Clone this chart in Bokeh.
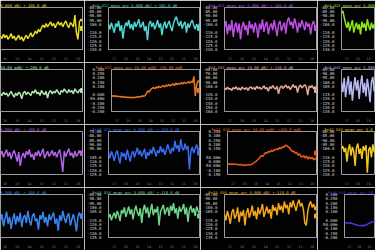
from bokeh.plotting import figure
from bokeh.layouts import column, row
from bokeh.models import Range1d, FixedTicker, Label
from bokeh.embed import file_html
from bokeh.resources import INLINE

MONO = "DejaVu Sans Mono"

# ---------------- y tick sets ----------------
yt_a = [-80, -85, -90, -95, -100, -105, -110, -115, -120, -125, -130]
yl_a = ["-80.00", "-85.00", "-90.00", "-95.00", "-100.0", "-105.0", "-110.0", "-115.0", "-120.0", "-125.0", "-130.0"]
yt_b = [-85, -90, -95, -100, -105, -110, -115, -120, -125, -130, -135]
yl_b = ["-85.00", "-90.00", "-95.00", "-100.0", "-105.0", "-110.0", "-115.0", "-120.0", "-125.0", "-130.0", "-135.0"]
yt_c = [-75, -80, -85, -90, -95, -100, -105, -110, -115, -120, -125]
yl_c = ["-75.00", "-80.00", "-85.00", "-90.00", "-95.00", "-100.0", "-105.0", "-110.0", "-115.0", "-120.0", "-125.0"]
yt_d = [-60, -70, -80, -90, -100, -110, -120, -130, -140, -150, -160]
yl_d = ["-60.00", "-70.00", "-80.00", "-90.00", "-100.0", "-110.0", "-120.0", "-130.0", "-140.0", "-150.0", "-160.0"]
yt_e = [-90, -95, -100, -105, -110, -115, -120, -125, -130, -135, -140]
yl_e = ["-90.00", "-95.00", "-100.0", "-105.0", "-110.0", "-115.0", "-120.0", "-125.0", "-130.0", "-135.0", "-140.0"]
yt_m1 = [0.3, 0.25, 0.2, 0.15, 0.1, 0.05, 0.0, -0.05, -0.1, -0.15, -0.2]
yl_m1 = ["0.300", "0.250", "0.200", "0.150", "0.100", "50.00m", "0.000", "-50.00m", "-0.100", "-0.150", "-0.200"]
yt_m2 = [0.35, 0.3, 0.25, 0.2, 0.15, 0.1, 0.05, 0.0, -0.05, -0.1, -0.15]
yl_m2 = ["0.350", "0.300", "0.250", "0.200", "0.150", "0.100", "50.00m", "0.000", "-50.00m", "-0.100", "-0.150"]

x_ticks = [4, 12, 20, 28, 36, 44, 52, 60]
x_labels = ["17", "16", "15", "14", "13", "12", "11", "10"]

# ---------------- traces ----------------
yellow = [-114, -117, -112, -116, -113, -118, -115, -111, -117, -114,
          -119, -116, -113, -118, -115, -120, -116, -113, -117, -114,
          -110, -115, -112, -108, -111, -106, -109, -104, -101, -104,
          -99, -103, -100, -97, -102, -99, -104, -100, -97, -101,
          -98, -103, -99, -96, -101, -104, -98, -100, -103, -89,
          -110, -118, -97, -94, -96]
cyan = [-100, -106, -98, -104, -110, -99, -103, -96, -108, -101,
        -117, -104, -98, -102, -95, -105, -100, -107, -97, -103,
        -99, -94, -104, -101, -97, -108, -102, -119, -100, -96,
        -103, -98, -106, -101, -95, -104, -99, -113, -102, -97,
        -105, -100, -96, -103, -108, -99, -94, -91, -98, -102,
        -96, -105, -100, -97, -110, -99, -104, -98, -95, -101,
        -106, -100, -103, -99]
magenta = [-104, -96, -112, -100, -108, -95, -115, -102, -98, -110,
           -99, -118, -103, -97, -107, -101, -113, -96, -105, -100,
           -110, -98, -104, -116, -99, -106, -94, -109, -101, -97,
           -112, -103, -99, -107, -95, -104, -114, -100, -96, -108,
           -102, -98, -111, -96, -92, -101, -97, -105, -93, -100,
           -110, -98, -104, -95, -101, -107, -97, -103, -99, -112,
           -100, -96, -104, -101]
lime = [-86, -84, -92, -99, -104, -97, -108, -101, -95, -110,
        -103, -98, -106, -100, -112, -97, -104, -99, -108, -94,
        -102, -107, -98, -105, -100, -103]

palegreen = [-119, -121, -117, -120, -118, -122, -119, -116, -120, -123,
             -118, -121, -117, -119, -125, -118, -116, -120, -117, -119,
             -121, -116, -118, -114, -119, -117, -121, -115, -118, -120,
             -116, -124, -117, -115, -119, -116, -118, -114, -117, -120,
             -115, -117, -113, -116, -118, -114, -117, -115, -119, -113,
             -116, -118, -114, -116, -115]
orange = [-0.010, -0.018, -0.012, -0.022, -0.015, -0.025, -0.020, -0.028, -0.022, -0.030,
          -0.026, -0.034, -0.028, -0.036, -0.031, -0.038,
          -0.030, -0.036, -0.025, -0.032, -0.020, -0.027, -0.012, -0.020, -0.010,
          0.015, 0.045, 0.030, 0.060, 0.075, 0.086,
          0.070, 0.092, 0.080, 0.100, 0.085, 0.096, 0.110,
          0.090, 0.115, 0.100, 0.122, 0.105, 0.116,
          0.130, 0.108, 0.138, 0.120, 0.135,
          0.125, 0.145, 0.128, 0.150, 0.132, 0.140, 0.155,
          0.138, 0.160, 0.145, 0.218, -0.016, 0.120, 0.167, 0.147]
pink = [-104, -108, -102, -107, -105, -110, -103, -106, -101, -108,
        -104, -109, -102, -105, -107, -103, -110, -104, -101, -106,
        -103, -108, -100, -105, -102, -107, -104, -99, -106, -103,
        -112, -101, -105, -98, -104, -107, -100, -118, -103, -99,
        -105, -101, -97, -104, -100, -108, -102, -96, -103, -99,
        -115, -101, -97, -104, -100, -96, -102, -121, -99, -103,
        -98, -106, -101, -104]
lavender = [-100, -112, -95, -118, -104, -93, -115, -99, -122, -106,
            -94, -110, -98, -120, -103, -92, -113, -101, -117, -96,
            -108, -124, -100, -94, -111, -105]

purple = [-102, -98, -105, -100, -96, -104, -99, -107, -101, -97,
          -103, -110, -99, -115, -104, -100, -106, -98, -102, -96,
          -105, -101, -108, -99, -103, -97, -104, -100, -95, -106,
          -102, -98, -104, -101, -97, -103, -99, -105, -100, -96,
          -107, -122, -98, -104, -99, -95, -103, -100, -106, -98,
          -104, -101, -97, -103, -100]
blue3 = [-100, -106, -98, -103, -109, -101, -97, -105, -112, -99,
         -104, -100, -108, -96, -103, -110, -101, -98, -105, -99,
         -94, -102, -97, -104, -100, -95, -107, -99, -103, -96,
         -101, -93, -98, -104, -97, -100, -92, -99, -95, -102,
         -97, -90, -96, -101, -94, -98, -86, -95, -91, -99,
         -84, -94, -97, -89, -96, -92, -119, -98, -93, -100,
         -95, -90, -97, -94]
redorange = [-0.030, -0.025, -0.035, -0.028, -0.032, -0.026, -0.034, -0.030, -0.038, -0.033,
             -0.040, -0.036, -0.045, -0.038, -0.042, -0.035, -0.040, -0.030, -0.025, -0.010, 0.000,
             0.015, 0.030, 0.050, 0.070, 0.060, 0.085, 0.105,
             0.095, 0.120, 0.110, 0.130, 0.115, 0.140, 0.136,
             0.150, 0.140, 0.165, 0.150, 0.175, 0.166,
             0.190, 0.187, 0.170, 0.160, 0.135, 0.115,
             0.120, 0.095, 0.105, 0.075, 0.090, 0.060, 0.054,
             0.070, 0.040, 0.065, 0.030, 0.055, 0.034,
             0.050, 0.020, 0.040, 0.013]
gold = [-100, -97, -104, -99, -115, -101, -95, -108, -98, -103,
        -120, -99, -94, -106, -100, -112, -97, -102, -96, -128,
        -101, -98, -110, -95, -104, -100]

blue4 = [-106, -98, -112, -103, -95, -109, -101, -115, -104, -97,
         -110, -100, -107, -96, -113, -102, -99, -108, -94, -105,
         -111, -100, -97, -106, -103, -116, -99, -104, -95, -108,
         -101, -112, -98, -105, -100, -96, -109, -103, -117, -99,
         -106, -94, -102, -108, -100, -97, -111, -104, -98, -106,
         -118, -101, -96, -103, -99]
green4 = [-112, -108, -115, -110, -106, -113, -104, -109, -116, -103,
          -107, -100, -111, -105, -99, -108, -102, -114, -104, -98,
          -106, -110, -101, -118, -103, -97, -107, -100, -112, -104,
          -96, -109, -102, -106, -99, -121, -105, -101, -97, -108,
          -103, -100, -110, -98, -104, -95, -107, -101, -113, -99,
          -105, -102, -96, -108, -100, -117, -103, -98, -106, -101,
          -110, -99, -104, -107]
goldorange = [-108, -115, -104, -111, -119, -106, -102, -113, -109, -100,
              -117, -105, -110, -103, -121, -107, -101, -112, -106, -98,
              -110, -104, -114, -100, -108, -103, -96, -111, -105, -99,
              -107, -102, -113, -97, -104, -100, -109, -95, -103, -98,
              -106, -93, -101, -97, -108, -94, -100, -92, -98, -104,
              -96, -91, -99, -95, -102, -118, -121, -105, -97, -93,
              -100, -96, -103, -98]
violet = [-0.030, -0.028, -0.032, -0.030, -0.034, -0.031, -0.036, -0.040, -0.045, -0.050,
          -0.055, -0.058, -0.062, -0.060, -0.065, -0.058, -0.062, -0.055, -0.050, -0.042,
          -0.035, -0.028, -0.020, -0.015, -0.010, -0.005]

headers = [
    ["5.000 dB/ +-105.0 dB", "Fp2 G12 mean avr 5.000 dB/ +-105.0 dB",
     "Fp3 G22 mean avr 5.000 dB/ +-105.0 dB", "Fp4 G42 mean avr 5.000"],
    ["10.00 mdB/ +-200.0 dB", "Fp6 G22 mean avr 50.00 mdB/ +50.00 mdB",
     "Fp7 G32 mean avr 10.00 dB/ +-110.0 dB", "Fp8 G42 mean avr 5.000"],
    ["5.000 dB/ +-100.0 dB", "Fp10 G23 mean avr 5.000 dB/ +-100.0 dB",
     "Fp11 G33 mean avr 50.00 mdB/ +100.0 mdB", "Fp12 G43 mean avr 5.0"],
    ["5.000 dB/ +-100.0 dB", "Fp14 G24 mean avr 5.000 dB/ +-110.0 dB",
     "Fp15 G34 mean avr 5.000 dB/ +-110.0 dB", "Fp16 G44 mean avr 50."],
]
series = [
    [yellow, cyan, magenta, lime],
    [palegreen, orange, pink, lavender],
    [purple, blue3, redorange, gold],
    [blue4, green4, goldorange, violet],
]
ticksets = [
    [(yt_a, yl_a), (yt_a, yl_a), (yt_a, yl_a), (yt_a, yl_a)],
    [(yt_e, yl_e), (yt_m1, yl_m1), (yt_d, yl_d), (yt_b, yl_b)],
    [(yt_c, yl_c), (yt_c, yl_c), (yt_m2, yl_m2), (yt_a, yl_a)],
    [(yt_c, yl_c), (yt_b, yl_b), (yt_b, yl_b), (yt_m1, yl_m1)],
]
colors = [
    ["#e6de1e", "#4fd6d6", "#c04ee6", "#8ee81a"],
    ["#b4e6b0", "#e8761a", "#eaa898", "#b8b8f4"],
    ["#b264e6", "#3a6cf4", "#f0581c", "#f4c81c"],
    ["#3a86f0", "#6cd68a", "#f4a81c", "#4838e8"],
]

col_geom = [(84, 0, 2), (116, 18, 1), (117, 18, 1), (58, 18, 0)]
row_geom = [(62, 4, 8), (62, 5, 8), (63, 5, 9), (63, 5, 8)]

rows = []
for r in range(4):
    h, bt, bb = row_geom[r]
    figs = []
    for c in range(4):
        w, bl, br = col_geom[c]
        ys = series[r][c]
        yt, yl = ticksets[r][c]
        col = colors[r][c]
        start = 64 - len(ys) if c == 0 else 0
        xs = list(range(start, start + len(ys)))
        p = figure(width=w, height=h, output_backend="svg", toolbar_location=None,
                   x_range=Range1d(xs[0], xs[-1]), y_range=Range1d(yt[-1], yt[0]),
                   min_border_left=bl, min_border_right=br, min_border_top=bt, min_border_bottom=bb,
                   y_axis_location=("left" if c > 0 else None),
                   background_fill_color="#020202", border_fill_color="black",
                   outline_line_color="#9a9a9a", outline_line_width=1,
                   title=headers[r][c])
        p.title.text_color = col
        p.title.text_font = MONO
        p.title.text_font_size = "3.8px"
        p.title.text_font_style = "normal"
        p.title.standoff = 0
        p.title.align = "left"
        p.title.offset = 0 if c == 0 else (-17 if c == 3 else -16)
        p.xgrid.visible = False
        p.ygrid.visible = False

        xa = p.xaxis[0]
        xa.ticker = FixedTicker(ticks=x_ticks)
        xa.major_label_overrides = {t: l for t, l in zip(x_ticks, x_labels)}
        xa.axis_line_color = None
        xa.major_tick_line_color = None
        xa.minor_tick_line_color = None
        xa.major_label_text_font = MONO
        xa.major_label_text_font_size = "3.5px"
        xa.major_label_text_color = "#7a7a7a"
        xa.major_label_standoff = 1

        ref = yt[5]
        if c > 0:
            ya = p.yaxis[0]
            ya.ticker = FixedTicker(ticks=yt)
            ov = {t: l for t, l in zip(yt, yl)}
            ov[ref] = ""
            ya.major_label_overrides = ov
            ya.axis_line_color = None
            ya.major_tick_line_color = None
            ya.minor_tick_line_color = None
            ya.major_label_text_font = MONO
            ya.major_label_text_font_size = "4px"
            ya.major_label_text_color = "#dcdcdc"
            ya.major_label_standoff = 1
            p.add_layout(Label(x=-1, y=ref, x_units="screen", y_units="data", text=yl[5],
                               text_align="right", text_baseline="middle", text_color=col,
                               text_font=MONO, text_font_size="4px",
                               background_fill_color="#262626"))

        p.line(xs, ys, line_color=col, line_width=1.5)
        if c < 3:
            p.scatter([xs[-1]], [ref], marker="square", size=4, color=col)
        figs.append(p)
    rows.append(row(*figs, spacing=0))

layout = column(*rows, spacing=0)
open("out.html", "w").write(file_html(layout, INLINE))
